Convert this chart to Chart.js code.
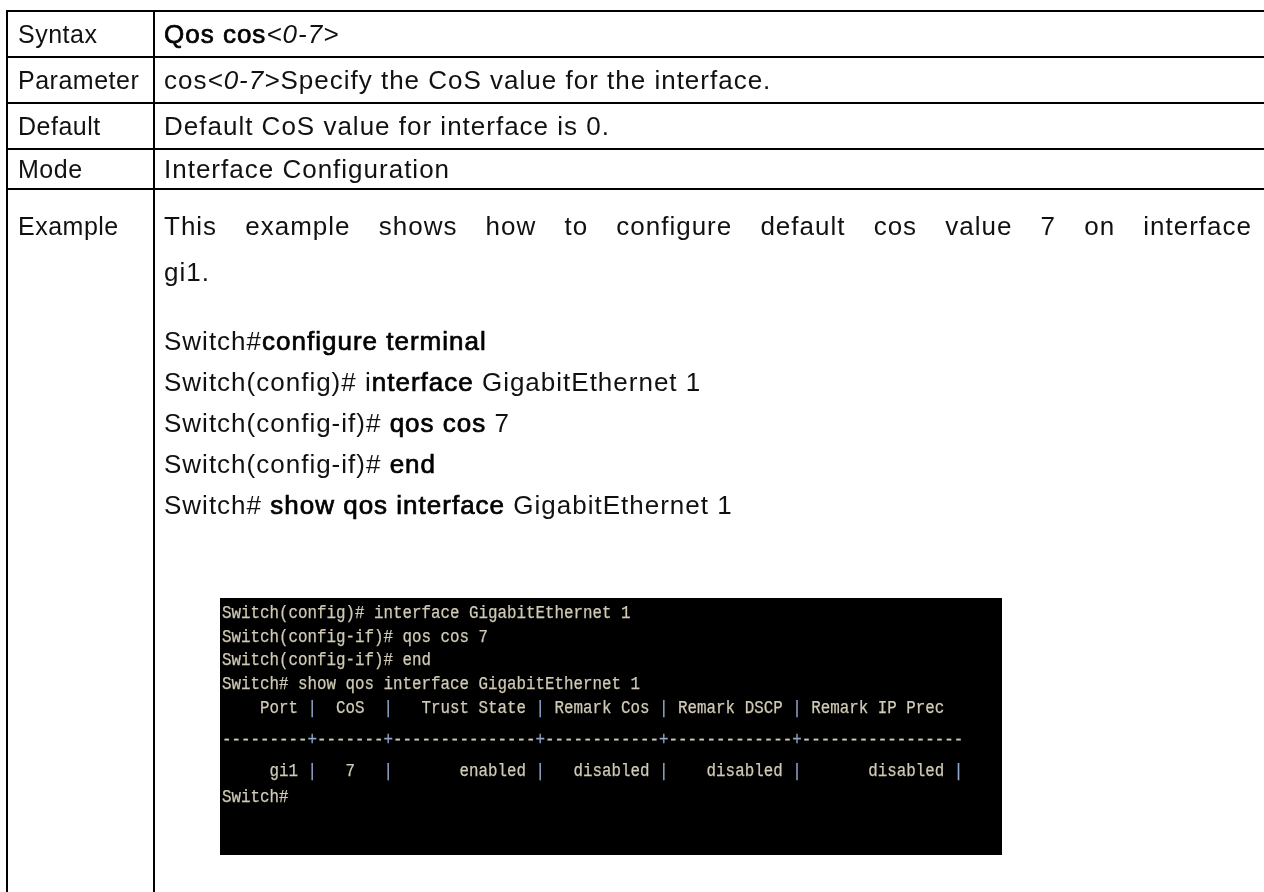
<!DOCTYPE html>
<html><head><meta charset="utf-8">
<script src="https://cdn.jsdelivr.net/npm/chart.js@4.4.1/dist/chart.umd.min.js"></script>
<style>
html,body{margin:0;padding:0;background:#fff;width:1264px;height:892px;overflow:hidden}
#c{position:absolute;left:0;top:0}
.t{position:absolute;font-family:"Liberation Sans",Arial,sans-serif;font-size:26px;color:#111;white-space:nowrap;line-height:40px;letter-spacing:1px}
.lab{font-size:25px;letter-spacing:0.5px}
.t b{font-weight:normal;color:#000;-webkit-text-stroke:0.7px #000}
.t i{font-style:italic}
.j{white-space:normal;text-align:justify;text-align-last:justify}
.term{position:absolute;font-family:"Liberation Mono","DejaVu Sans Mono",monospace;font-size:18px;color:#d0cab6;white-space:pre;line-height:24px;transform:scaleX(0.8796);transform-origin:0 50%;-webkit-text-stroke:0.25px #d0cab6}
.term span.p{color:#8ea6c8;-webkit-text-stroke:0.25px #8ea6c8}
</style></head><body>
<canvas id="c" width="1264" height="892"></canvas>
<div id="txt"></div>
<script>
// ---- content ----
const rowLabels = ["Syntax", "Parameter", "Default", "Mode", "Example"];
const syntaxText = [["Qos cos", "b"], ["<0-7>", "i"]];
const parameterText = [["cos", ""], ["<0-7>", "i"], ["Specify the CoS value for the interface.", ""]];
const defaultText = [["Default CoS value for interface is 0.", ""]];
const modeText = [["Interface Configuration", ""]];
const exampleIntro = ["This example shows how to configure default cos value 7 on interface", "gi1."];
const exampleCommands = [
  [["Switch#", ""], ["configure terminal", "b"]],
  [["Switch(config)# i", ""], ["nterface", "b"], [" GigabitEthernet 1", ""]],
  [["Switch(config-if)# ", ""], ["qos cos", "b"], [" 7", ""]],
  [["Switch(config-if)# ", ""], ["end", "b"]],
  [["Switch# ", ""], ["show qos interface", "b"], [" GigabitEthernet 1", ""]]
];
const terminalLines = [
  "Switch(config)# interface GigabitEthernet 1",
  "Switch(config-if)# qos cos 7",
  "Switch(config-if)# end",
  "Switch# show qos interface GigabitEthernet 1",
  "    Port |  CoS  |   Trust State | Remark Cos | Remark DSCP | Remark IP Prec",
  "---------+-------+---------------+------------+-------------+-----------------",
  "     gi1 |   7   |       enabled |   disabled |    disabled |       disabled |",
  "Switch#"
];

// ---- layout (pixels) ----
const L = {
  left: 7, divider: 154, right: 1264, bottom: 892,
  rowLines: [11, 57, 103, 149, 189],
  col1X: 18, col2X: 164, col2W: 1088,
  labelCenters: [34, 80, 126, 169, 226],
  introCenters: [226, 272],
  cmdCenters: [341, 382, 423, 464, 505],
  box: {x0: 220, x1: 1002, y0: 598, y1: 855},
  termX: 222, termCenters: [613, 637, 660, 684, 708, 740, 771, 797]
};

function esc(s){return s.replace(/&/g,"&amp;").replace(/</g,"&lt;").replace(/>/g,"&gt;");}
function segHTML(segs){
  return segs.map(([s,st]) => st==="b" ? "<b>"+esc(s)+"</b>" : st==="i" ? "<i>"+esc(s)+"</i>" : esc(s)).join("");
}
const txt = document.getElementById("txt");
function addDiv(cls, x, cy, html, w){
  const d = document.createElement("div");
  d.className = cls;
  d.style.left = x + "px";
  d.style.top = (cy - 20) + "px";
  if (w) d.style.width = w + "px";
  d.innerHTML = html;
  txt.appendChild(d);
}
rowLabels.forEach((lab, i) => addDiv("t lab", L.col1X, L.labelCenters[i], esc(lab)));
[syntaxText, parameterText, defaultText, modeText].forEach((segs, i) => addDiv("t", L.col2X, L.labelCenters[i], segHTML(segs)));
addDiv("t j", L.col2X, L.introCenters[0], esc(exampleIntro[0]), L.col2W);
addDiv("t", L.col2X, L.introCenters[1], esc(exampleIntro[1]));
exampleCommands.forEach((segs, i) => addDiv("t", L.col2X, L.cmdCenters[i], segHTML(segs)));
terminalLines.forEach((line, i) => {
  const d = document.createElement("div");
  d.className = "term";
  d.style.left = L.termX + "px";
  d.style.top = (L.termCenters[i] - 12) + "px";
  d.innerHTML = esc(line).replace(/([|+])/g, '<span class="p">$1</span>');
  txt.appendChild(d);
});

// ---- Chart.js draws the table frame and terminal panel ----
const framePlugin = {
  id: "frame",
  afterDraw(chart) {
    const ctx = chart.ctx, xs = chart.scales.x, ys = chart.scales.y;
    const X = v => xs.getPixelForValue(v), Y = v => ys.getPixelForValue(v);
    ctx.save();
    ctx.fillStyle = "#000";
    ctx.fillRect(X(L.box.x0), Y(L.box.y0), X(L.box.x1) - X(L.box.x0), Y(L.box.y1) - Y(L.box.y0));
    ctx.strokeStyle = "#000";
    ctx.lineWidth = 2;
    ctx.beginPath();
    L.rowLines.forEach(y => { ctx.moveTo(X(L.left) - 1, Y(y)); ctx.lineTo(X(L.right), Y(y)); });
    [L.left, L.divider].forEach(x => { ctx.moveTo(X(x), Y(L.rowLines[0]) - 1); ctx.lineTo(X(x), Y(L.bottom)); });
    ctx.stroke();
    ctx.restore();
  }
};
new Chart(document.getElementById("c"), {
  type: "scatter",
  data: { datasets: [] },
  options: {
    responsive: false, animation: false, events: [],
    layout: { padding: 0 },
    plugins: { legend: { display: false }, tooltip: { enabled: false } },
    scales: {
      x: { type: "linear", min: 0, max: 1264, display: false },
      y: { type: "linear", min: 0, max: 892, reverse: true, display: false }
    }
  },
  plugins: [framePlugin]
});
</script>
</body></html>
